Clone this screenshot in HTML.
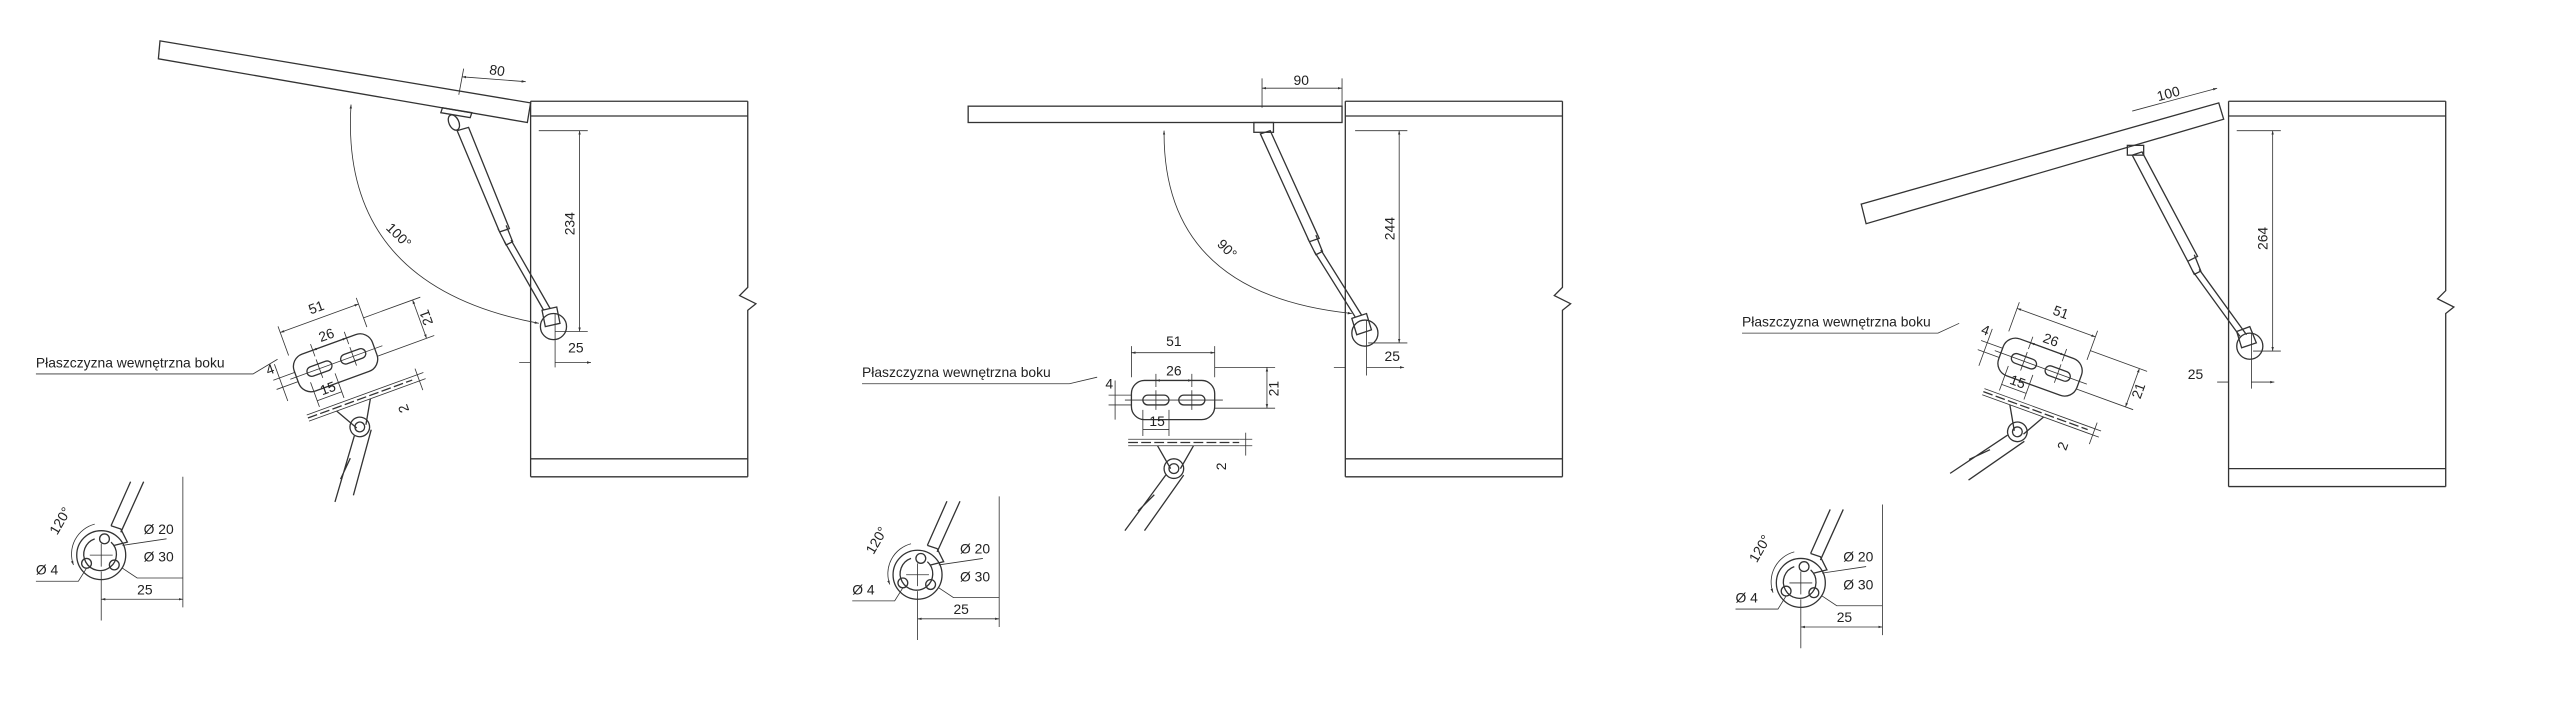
<!DOCTYPE html>
<html><head><meta charset="utf-8"><style>
html,body{margin:0;padding:0;background:#fff;width:2560px;height:725px;overflow:hidden}
svg{display:block}
text{font-family:"Liberation Sans",sans-serif;font-size:8.5px;fill:#222}
.l{fill:none;stroke:#333;stroke-width:0.8}
.t{fill:none;stroke:#333;stroke-width:0.5}
</style></head><body>
<svg width="2560" height="725" viewBox="0 0 1568 444" xmlns="http://www.w3.org/2000/svg">
<defs>
<marker id="a" viewBox="0 0 10 10" refX="10" refY="5" markerWidth="5" markerHeight="5" orient="auto-start-reverse"><path d="M0,2 L10,5 L0,8z" fill="#333"/></marker>
<g id="brk">
  <rect x="-26" y="-12" width="51" height="24" rx="8" class="l"/>
  <rect x="-19" y="-3" width="16" height="6" rx="3" class="l"/>
  <rect x="3" y="-3" width="16" height="6" rx="3" class="l"/>
  <path d="M-30,0 H30 M-11,-6 V6 M11,-6 V6" class="t"/>
  <path d="M-26,-14 V-33 M25,-14 V-33" class="t"/>
  <path d="M-26,-29 H25" class="t" marker-start="url(#a)" marker-end="url(#a)"/>
  <text x="0" y="-33" text-anchor="middle">51</text>
  <path d="M-11,-8 V-16 M11,-8 V-16" class="t"/>
  <path d="M-11,-12 H11" class="t" marker-start="url(#a)" marker-end="url(#a)"/>
  <text x="0" y="-15" text-anchor="middle">26</text>
  <path d="M25,-20 H62 M25,5 H62" class="t"/>
  <path d="M57,-20 V5" class="t" marker-start="url(#a)" marker-end="url(#a)"/>
  <text x="64" y="-7" text-anchor="middle" transform="rotate(-90 64 -7)">21</text>
  <path d="M-40,-3 H-26 M-40,3 H-26 M-36,-12 V12" class="t"/>
  <text x="-42" y="-7">4</text>
  <path d="M-19,6 V22 M-3,6 V22 M-19,18 H-3" class="t"/>
  <text x="-15" y="16">15</text>
  <path d="M-28,26 H40" class="l" stroke-width="2" stroke-dasharray="6 2"/>
  <path d="M-28,24 H40 M-28,28 H40" class="t"/>
  <path d="M44,20 V34" class="t"/><path d="M40,24 H48 M40,28 H48" class="t"/>
  <text x="32" y="43" transform="rotate(-90 32 43)">2</text>
  <path d="M-10,28 L-2,42 M12,28 L4,42" class="l"/>
  <circle cx="0" cy="42" r="6" class="l"/><circle cx="0" cy="42" r="3" class="l"/>
  <path d="M-5,46 L-30,80 M6,46 L-18,80 M-12,58 L-22,68" class="l"/>
</g>
<g id="rnd">
  <path d="M18,-45 L6,-18 M26,-45 L12,-14" class="l"/>
  <path d="M6,-18 L12,-16 L16,-8 L8,-6" class="l"/>
  <circle cx="0" cy="0" r="15" class="l"/>
  <path d="M-4,-10 A10,10 0 1 0 6,-8" class="l"/>
  <circle cx="2" cy="-10" r="3" class="l"/><circle cx="-9" cy="5" r="3" class="l"/><circle cx="8" cy="6" r="3" class="l"/>
  <path d="M-7,0 H7 M0,-7 V7 M0,10 V40" class="t"/>
  <path d="M-4,-19 A19,19 0 0 0 -17,6" class="t" marker-end="url(#a)"/>
  <text x="-27" y="-12" transform="rotate(-60 -27 -12)">120°</text>
  <path d="M13,-6 L40,-10 M13,8 L22,14 H50" class="t"/>
  <text x="26" y="-13">Ø 20</text><text x="26" y="4">Ø 30</text>
  <path d="M-9,8 L-14,16 H-40" class="t"/>
  <text x="-40" y="12">Ø 4</text>
  <path d="M50,-48 V32" class="t"/>
  <path d="M0,27 H50" class="t" marker-start="url(#a)" marker-end="url(#a)"/>
  <text x="22" y="24">25</text>
</g>
</defs>

<!-- PANEL 1 -->
<polygon points="98,25 325,63 323,75 97,36" class="l"/>
<path d="M325,62 H458 M325,71 H458 M325,281 H458 M325,292 H458 M325,62 V292 M458,62 V176 L453,181 L463,186 L458,190 V292" class="l"/>
<path d="M283,47 L322,50" class="t" marker-start="url(#a)" marker-end="url(#a)"/><path d="M284,42 L281,58" class="t"/>
<text x="304" y="46" text-anchor="middle" transform="rotate(9 304 46)">80</text>
<path d="M330,80 H360 M340,203 H360" class="t"/>
<path d="M355,80 V203" class="t" marker-start="url(#a)" marker-end="url(#a)"/>
<text x="352" y="137" text-anchor="middle" transform="rotate(-90 352 137)">234</text>
<path d="M271,66 L289,69 L288,72 L270,69 Z" class="l"/>
<ellipse cx="278" cy="75" rx="3" ry="5" transform="rotate(-25 278 75)" class="l"/>
<path d="M280,80 L306,142 L312,140 L287,78 Z M305,140 L310,150 L314,148 L310,138" class="l"/>
<path d="M309,148 L333,190 M313,147 L337,189" class="l"/>
<circle cx="339" cy="200" r="8" class="l"/><path d="M332,190 L341,188 L343,198 L334,200Z" class="l"/>
<path d="M215,64 Q208,175 330,198" class="t" marker-start="url(#a)" marker-end="url(#a)"/>
<text x="236" y="140" transform="rotate(45 236 140)">100°</text>
<path d="M340,192 V225" class="t"/>
<path d="M318,222 H325 M340,222 H362" class="t" marker-end="url(#a)"/>
<text x="348" y="216">25</text>
<text x="22" y="225">Płaszczyzna wewnętrzna boku</text>
<path d="M22,229 H155 L170,220" class="t"/>
<use href="#brk" transform="translate(206,222) rotate(-20)"/>
<use href="#rnd" transform="translate(62,340)"/>

<!-- PANEL 2 -->
<rect x="593" y="65" width="229" height="10" class="l"/>
<path d="M824,62 H957 M824,71 H957 M824,281 H957 M824,292 H957 M824,62 V292 M957,62 V176 L952,181 L962,186 L957,190 V292" class="l"/>
<path d="M773,48 V66 M822,48 V66" class="t"/>
<path d="M773,54 H822" class="t" marker-start="url(#a)" marker-end="url(#a)"/>
<text x="797" y="52" text-anchor="middle">90</text>
<path d="M830,80 H862 M838,210 H862" class="t"/>
<path d="M857,80 V210" class="t" marker-start="url(#a)" marker-end="url(#a)"/>
<text x="854" y="140" text-anchor="middle" transform="rotate(-90 854 140)">244</text>
<rect x="768" y="75" width="12" height="6" class="l"/>
<path d="M772,82 L802,148 L808,146 L778,80 Z M801,146 L806,156 L810,154 L806,144" class="l"/>
<path d="M805,154 L830,194 M809,153 L834,193" class="l"/>
<circle cx="836" cy="204" r="8" class="l"/><path d="M828,195 L837,192 L840,202 L831,205Z" class="l"/>
<path d="M713,80 Q712,180 828,192" class="t" marker-start="url(#a)" marker-end="url(#a)"/>
<text x="745" y="150" transform="rotate(45 745 150)">90°</text>
<path d="M837,196 V230" class="t"/>
<path d="M817,225 H824 M837,225 H860" class="t" marker-end="url(#a)"/>
<text x="848" y="221">25</text>
<text x="528" y="231">Płaszczyzna wewnętrzna boku</text>
<path d="M528,235 H655 L672,231" class="t"/>
<use href="#brk" transform="translate(719,245)"/>
<use href="#rnd" transform="translate(562,352)"/>

<!-- PANEL 3 -->
<polygon points="1140,125 1359,63 1362,73 1143,137" class="l"/>
<path d="M1365,62 H1498 M1365,71 H1498 M1365,287 H1498 M1365,298 H1498 M1365,62 V298 M1498,62 V178 L1493,183 L1503,188 L1498,192 V298" class="l"/>
<path d="M1306,68 L1358,54" class="t" marker-end="url(#a)"/>
<text x="1322" y="62" transform="rotate(-15 1322 62)">100</text>
<path d="M1370,80 H1397 M1380,215 H1397" class="t"/>
<path d="M1392,80 V215" class="t" marker-start="url(#a)" marker-end="url(#a)"/>
<text x="1389" y="146" text-anchor="middle" transform="rotate(-90 1389 146)">264</text>
<rect x="1303" y="89" width="10" height="6" class="l"/>
<path d="M1306,95 L1340,160 L1346,157 L1312,93 Z M1339,158 L1344,168 L1348,166 L1344,156" class="l"/>
<path d="M1343,166 L1372,206 M1347,165 L1376,205" class="l"/>
<circle cx="1378" cy="212" r="8" class="l"/><path d="M1370,203 L1378,200 L1382,210 L1373,213Z" class="l"/>
<path d="M1379,204 V238" class="t"/>
<path d="M1358,234 H1365 M1379,234 H1393" class="t" marker-end="url(#a)"/>
<text x="1340" y="232">25</text>
<text x="1067" y="200">Płaszczyzna wewnętrzna boku</text>
<path d="M1067,204 H1187 L1200,198" class="t"/>
<use href="#brk" transform="translate(1250,225) rotate(20)"/>
<use href="#rnd" transform="translate(1103,357)"/>
</svg>
</body></html>
